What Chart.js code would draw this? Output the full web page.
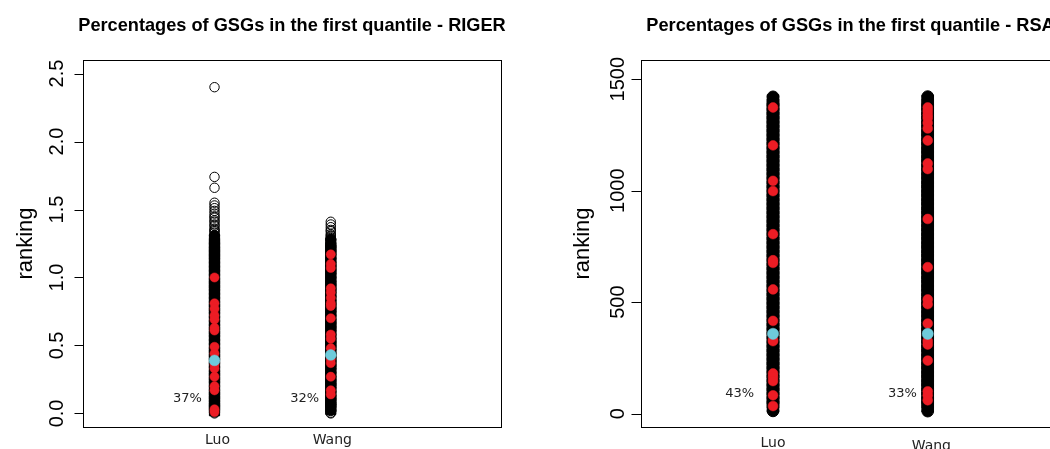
<!DOCTYPE html>
<html><head><meta charset="utf-8">
<script src="https://cdn.jsdelivr.net/npm/chart.js@4"></script>
<style>
html,body{margin:0;padding:0;background:#fff;overflow:hidden;width:1050px;height:449px;position:relative}
#wrapL{position:absolute;left:0;top:0;width:525px;height:449px}
#wrapR{position:absolute;left:525px;top:0;width:600px;height:449px}
canvas{display:block}
</style></head><body>
<div id="wrapL"><canvas id="cL" width="525" height="449"></canvas></div>
<div id="wrapR"><canvas id="cR" width="600" height="449"></canvas></div>
<script>
// ---------------- data ----------------
const categories = ['Luo', 'Wang'];
const pctRIGER = ['37%', '32%'];
const pctRSA = ['43%', '33%'];
const rigerTicks = [0, 0.5, 1, 1.5, 2, 2.5];
const rigerTickLabels = ['0.0', '0.5', '1.0', '1.5', '2.0', '2.5'];
const rsaTicks = [0, 500, 1000, 1500];
const rsaTickLabels = ['0', '500', '1000', '1500'];

// RIGER: all genes (black), gold-standard genes (red), median of GSGs (cyan)
const rigerLuoAll = [2.40, 1.74, 1.66, 1.55, 1.53, 1.51, 1.49, 1.47, 1.45, 1.44, 1.42, 1.41, 1.39, 1.38, 1.36, 1.35, 1.34, 1.33,
  1.31, 1.28, 1.25, 1.22, 1.19, 1.17, 1.14, 1.11, 1.08, 1.05, 1.02, 0.99, 0.96, 0.94, 0.91, 0.88, 0.85, 0.82, 0.79, 0.77,
  0.74, 0.71, 0.68, 0.65, 0.62, 0.60, 0.57, 0.54, 0.51, 0.48, 0.45, 0.43, 0.40, 0.37, 0.34, 0.31, 0.28, 0.26, 0.23, 0.20,
  0.17, 0.14, 0.12, 0.09, 0.06, 0.04, 0.02, 0.01, 0.00];
const rigerWangAll = [1.41, 1.39, 1.37, 1.35, 1.34, 1.32, 1.31, 1.30, 1.29, 1.28, 1.25, 1.22, 1.20, 1.17, 1.14, 1.11, 1.08,
  1.06, 1.03, 1.00, 0.97, 0.94, 0.92, 0.89, 0.86, 0.83, 0.80, 0.78, 0.75, 0.72, 0.69, 0.66, 0.64, 0.61, 0.58, 0.55, 0.52,
  0.50, 0.47, 0.44, 0.41, 0.38, 0.36, 0.33, 0.30, 0.27, 0.24, 0.22, 0.19, 0.16, 0.13, 0.10, 0.08, 0.05, 0.03, 0.02, 0.005, 0.00];
const rigerLuoGSG = [1.00, 0.81, 0.77, 0.72, 0.69, 0.63, 0.61, 0.49, 0.44, 0.36, 0.33, 0.27, 0.20, 0.17, 0.03, 0.01];
const rigerWangGSG = [1.17, 1.10, 1.07, 0.92, 0.89, 0.85, 0.81, 0.79, 0.70, 0.58, 0.55, 0.48, 0.40, 0.37, 0.27, 0.17, 0.14];
const rigerMedian = [0.39, 0.43];

// RSA
const rsaLuoAll = [1421, 1404, 1385, 1366, 1346, 1327, 1308, 1288, 1269, 1250, 1230, 1211, 1192, 1172, 1153, 1134, 1114,
  1095, 1076, 1056, 1037, 1018, 998, 979, 960, 940, 921, 902, 882, 863, 844, 824, 805, 786, 766, 747, 728, 708, 689, 670,
  650, 631, 612, 592, 573, 554, 534, 515, 496, 476, 457, 438, 418, 399, 380, 360, 341, 322, 302, 283, 264, 244, 225, 206,
  186, 167, 148, 128, 109, 90, 70, 51, 32, 12];
const rsaWangAll = [1422, 1403, 1386, 1365, 1347, 1326, 1309, 1287, 1270, 1249, 1231, 1210, 1193, 1171, 1154, 1133, 1115,
  1094, 1077, 1055, 1038, 1017, 999, 978, 961, 939, 922, 901, 883, 862, 845, 823, 806, 785, 767, 746, 729, 707, 690, 669,
  651, 630, 613, 591, 574, 553, 535, 514, 497, 475, 458, 437, 419, 398, 381, 359, 342, 321, 303, 282, 265, 243, 226, 205,
  187, 166, 149, 127, 110, 89, 71, 50, 33, 11];
const rsaLuoGSG = [1373, 1203, 1044, 998, 805, 688, 676, 557, 416, 330, 325, 180, 164, 146, 82, 34];
const rsaWangGSG = [1373, 1357, 1341, 1326, 1304, 1279, 1225, 1122, 1097, 873, 657, 512, 491, 404, 326, 310, 238, 100, 82, 60];
const rsaMedian = [358, 358];

// ---------------- drawing ----------------
const RED = '#EC1C24', CYAN = '#6ECBDB';

const decor = {
  id: 'decor',
  afterDraw(chart, args, o) {
    const ctx = chart.ctx, a = chart.chartArea, xs = chart.scales.x, ys = chart.scales.y;
    ctx.save();
    ctx.strokeStyle = '#000'; ctx.lineWidth = 1;
    const L = Math.round(a.left), T = Math.round(a.top), R = Math.round(a.right), B = Math.round(a.bottom);
    ctx.strokeRect(L + 0.5, T + 0.5, R - L, B - T);
    ctx.beginPath();
    o.ticks.forEach(v => {
      const py = Math.round(ys.getPixelForValue(v)) + 0.5;
      ctx.moveTo(L + 0.5 - o.tickLen, py); ctx.lineTo(L + 0.5, py);
    });
    ctx.stroke();
    ctx.fillStyle = '#000';
    ctx.textAlign = 'center'; ctx.textBaseline = 'alphabetic';
    ctx.font = '20px "Liberation Sans", Arial, sans-serif';
    o.ticks.forEach((v, i) => {
      ctx.save();
      ctx.translate(o.tickLabelX, ys.getPixelForValue(v));
      ctx.rotate(-Math.PI / 2);
      ctx.fillText(o.tickLabels[i], 0, 0);
      ctx.restore();
    });
    ctx.font = '22px "Liberation Sans", Arial, sans-serif';
    ctx.save();
    ctx.translate(o.yTitleX, (a.top + a.bottom) / 2);
    ctx.rotate(-Math.PI / 2);
    ctx.fillText('ranking', 0, 0);
    ctx.restore();
    ctx.font = 'bold 18.2px "Liberation Sans", Arial, sans-serif';
    ctx.fillText(o.title, (a.left + a.right) / 2, o.titleY);
    ctx.fillStyle = '#222';
    ctx.font = '14px "DejaVu Sans", sans-serif';
    categories.forEach((c, i) => ctx.fillText(c, xs.getPixelForValue(i + 1) + o.catDx[i], o.catY[i]));
    ctx.font = '13px "DejaVu Sans", sans-serif';
    o.pct.forEach((t, i) => ctx.fillText(t, xs.getPixelForValue(o.pctX[i]), ys.getPixelForValue(o.pctY)));
    ctx.restore();
  }
};

function pts(vals, x) { return vals.map(v => ({ x: x, y: v })); }

function build(id, W, cfg) {
  const solid = cfg.solid;
  const allCols = cfg.all;
  // extremes of the densely packed (solid-looking) part of each column: drawn as round caps
  const ends = solid.map((s, i) => {
    const inside = allCols[i].filter(v => v >= s[0] && v <= s[1]);
    return [Math.min(...inside), Math.max(...inside)];
  });
  const kind = p => {
    const s = solid[p.x - 1];
    if (!(p.y >= s[0] && p.y <= s[1])) return 'open';
    const e = ends[p.x - 1];
    return (p.y === e[0] || p.y === e[1]) ? 'cap' : 'body';
  };
  return new Chart(document.getElementById(id), {
    type: 'scatter',
    data: {
      datasets: [
        { label: 'median', data: [{ x: 1, y: cfg.median[0] }, { x: 2, y: cfg.median[1] }],
          pointRadius: cfg.rCyan, backgroundColor: CYAN, borderColor: CYAN, borderWidth: 0.5 },
        { label: 'GSG', data: pts(cfg.gsg[0], 1).concat(pts(cfg.gsg[1], 2)),
          pointRadius: cfg.rRed, backgroundColor: RED, borderColor: RED, borderWidth: 0.5 },
        { label: 'all', data: pts(allCols[0], 1).concat(pts(allCols[1], 2)),
          borderColor: '#000', borderWidth: 1,
          backgroundColor: c => (c.raw && kind(c.raw) === 'open') ? 'rgba(0,0,0,0)' : '#000',
          pointStyle: c => (c.raw && kind(c.raw) === 'body') ? 'rect' : 'circle',
          pointRadius: c => {
            if (!c.raw) return cfg.rFill;
            const k = kind(c.raw);
            return k === 'open' ? cfg.rOpen : (k === 'body' ? cfg.rFill * Math.SQRT2 : cfg.rFill);
          } }
      ]
    },
    options: {
      responsive: false, animation: false, events: [],
      layout: { padding: { left: cfg.area[0], top: cfg.area[1], right: W - cfg.area[2], bottom: 449 - cfg.area[3] } },
      scales: {
        x: { type: 'linear', display: false, min: cfg.xMin, max: cfg.xMax },
        y: { type: 'linear', display: false, min: cfg.yMin, max: cfg.yMax }
      },
      plugins: { legend: { display: false }, tooltip: { enabled: false }, decor: cfg.decor }
    },
    plugins: [decor]
  });
}

build('cL', 525, {
  area: [83, 60, 501, 427], xMin: -0.131, xMax: 3.464, yMin: -0.1, yMax: 2.6,
  all: [rigerLuoAll, rigerWangAll], gsg: [rigerLuoGSG, rigerWangGSG], median: rigerMedian,
  solid: [[0.005, 1.315], [0.015, 1.285]], rFill: 5.1, rOpen: 4.7, rRed: 4.6, rCyan: 5.4,
  decor: { title: 'Percentages of GSGs in the first quantile - RIGER', titleY: 31,
    ticks: rigerTicks, tickLabels: rigerTickLabels, tickLen: 9, tickLabelX: 63, yTitleX: 32,
    catDx: [3, 1.5], catY: [443.5, 443.5], pct: pctRIGER, pctX: [0.768, 1.776], pctY: 0.082 }
});

build('cR', 600, {
  area: [116, 60, 535, 427], xMin: 0.1467, xMax: 2.855, yMin: -60, yMax: 1586,
  all: [rsaLuoAll, rsaWangAll], gsg: [rsaLuoGSG, rsaWangGSG], median: rsaMedian,
  solid: [[-100, 2000], [-100, 2000]], rFill: 5.8, rOpen: 5.8, rRed: 4.9, rCyan: 5.6,
  decor: { title: 'Percentages of GSGs in the first quantile - RSA', titleY: 31,
    ticks: rsaTicks, tickLabels: rsaTickLabels, tickLen: 10, tickLabelX: 99, yTitleX: 64,
    catDx: [0, 3.6], catY: [446.5, 449.5], pct: pctRSA, pctX: [0.785, 1.836], pctY: 73 }
});
</script>
</body></html>
